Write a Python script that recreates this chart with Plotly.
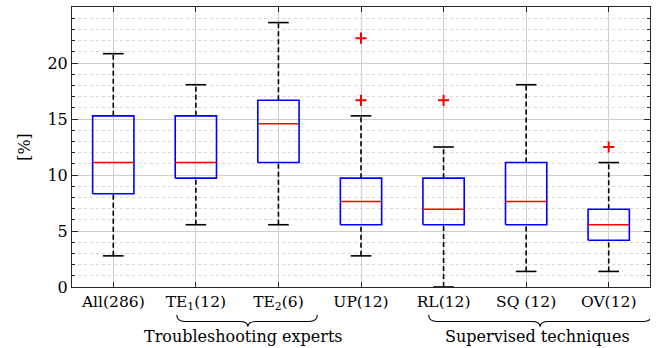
import plotly.graph_objects as go

# ---- data (percent) ----
categories = ["All(286)", "TE<sub>1</sub>(12)", "TE<sub>2</sub>(6)", "UP(12)", "RL(12)", "SQ (12)", "OV(12)"]
lower_whisker = [2.78, 5.56, 5.56, 2.78, 0.00, 1.39, 1.39]
q1 = [8.33, 9.72, 11.11, 5.56, 5.56, 5.56, 4.17]
median = [11.11, 11.11, 14.58, 7.64, 6.94, 7.64, 5.56]
q3 = [15.28, 15.28, 16.67, 9.72, 9.72, 11.11, 6.94]
upper_whisker = [20.83, 18.06, 23.61, 15.28, 12.50, 18.06, 11.11]
outliers = [[], [], [], [22.22, 16.67], [16.67], [], [12.50]]
y_ticks = [0, 5, 10, 15, 20]

FONT = "DejaVu Serif, serif"
pos = list(range(1, len(categories) + 1))
BW = 0.25   # box half width
CW = 0.125  # cap half width

def segs(pairs):
    xs, ys = [], []
    for (x0, y0, x1, y1) in pairs:
        xs += [x0, x1, None]
        ys += [y0, y1, None]
    return xs, ys

fig = go.Figure()

# whiskers (dashed)
wx, wy = segs([(p, q3[i], p, upper_whisker[i]) for i, p in enumerate(pos)] +
              [(p, lower_whisker[i], p, q1[i]) for i, p in enumerate(pos)])
fig.add_trace(go.Scatter(x=wx, y=wy, mode="lines",
                         line=dict(color="black", width=1.6, dash="5px,3px"),
                         hoverinfo="skip", cliponaxis=False))
# caps
cx, cy = segs([(p - CW, upper_whisker[i], p + CW, upper_whisker[i]) for i, p in enumerate(pos)] +
              [(p - CW, lower_whisker[i], p + CW, lower_whisker[i]) for i, p in enumerate(pos)])
fig.add_trace(go.Scatter(x=cx, y=cy, mode="lines",
                         line=dict(color="black", width=1.6),
                         hoverinfo="skip", cliponaxis=False))
# boxes
bx, by = [], []
for i, p in enumerate(pos):
    bx += [p - BW, p + BW, p + BW, p - BW, p - BW, None]
    by += [q1[i], q1[i], q3[i], q3[i], q1[i], None]
fig.add_trace(go.Scatter(x=bx, y=by, mode="lines",
                         line=dict(color="#0000ff", width=1.6),
                         hoverinfo="skip"))
# medians
mx, my = segs([(p - BW, median[i], p + BW, median[i]) for i, p in enumerate(pos)])
fig.add_trace(go.Scatter(x=mx, y=my, mode="lines",
                         line=dict(color="#ff0000", width=1.6),
                         hoverinfo="skip"))
# outliers
ox, oy = [], []
for i, p in enumerate(pos):
    for v in outliers[i]:
        ox.append(p)
        oy.append(v)
fig.add_trace(go.Scatter(x=ox, y=oy, mode="markers",
                         marker=dict(symbol="cross-thin", size=8,
                                     line=dict(color="#ff0000", width=2)),
                         hoverinfo="skip"))

# group braces
def brace(a, b, c, y0, y1, y2, d=0.1):
    return (f"M {a},{y0} Q {a},{y1} {a+d},{y1} L {c-d},{y1} Q {c},{y1} {c},{y2} "
            f"Q {c},{y1} {c+d},{y1} L {b-d},{y1} Q {b},{y1} {b},{y0}")

y0, y1, y2 = -0.100, -0.123, -0.142
fig.add_shape(type="path", xref="x", yref="paper",
              path=brace(1.77, 3.47, 2.63, y0, y1, y2),
              line=dict(color="black", width=1.1))
fig.add_shape(type="path", xref="x", yref="paper",
              path=brace(4.82, 7.52, 6.17, y0, y1, y2),
              line=dict(color="black", width=1.1))
fig.add_annotation(x=2.58, y=-0.175, xref="x", yref="paper", yanchor="middle",
                   text="Troubleshooting experts", showarrow=False,
                   font=dict(family=FONT, size=16, color="black"))
fig.add_annotation(x=6.14, y=-0.175, xref="x", yref="paper", yanchor="middle",
                   text="Supervised techniques", showarrow=False,
                   font=dict(family=FONT, size=16, color="black"))

fig.update_layout(
    width=672, height=348,
    margin=dict(l=72, r=22, t=7, b=61),
    paper_bgcolor="white", plot_bgcolor="white",
    showlegend=False,
    font=dict(family=FONT, color="black"),
)
fig.update_xaxes(
    range=[0.5, 7.5], tickmode="array", tickvals=pos, ticktext=categories,
    tickfont=dict(family=FONT, size=15.5, color="black"),
    showgrid=True, gridcolor="#cfcfcf", gridwidth=1,
    showline=True, linecolor="#262626", linewidth=1, mirror="ticks",
    ticks="inside", ticklen=5, tickcolor="#262626", zeroline=False,
)
fig.update_yaxes(
    range=[0, 25], tickmode="array", tickvals=y_ticks,
    tickfont=dict(family=FONT, size=16, color="black"),
    title=dict(text="[%]", font=dict(family=FONT, size=16, color="black"), standoff=12),
    showgrid=True, gridcolor="#cfcfcf", gridwidth=1,
    showline=True, linecolor="#262626", linewidth=1, mirror="ticks",
    ticks="inside", ticklen=6, tickcolor="#262626", zeroline=False,
    minor=dict(dtick=1, tick0=0, showgrid=True, gridcolor="#d8d8d8", griddash="dot",
               gridwidth=1, ticks="inside", ticklen=3, tickcolor="#262626"),
)

fig.write_html("out.html", config={"displayModeBar": False},
               post_script="document.body.style.margin='0';")
